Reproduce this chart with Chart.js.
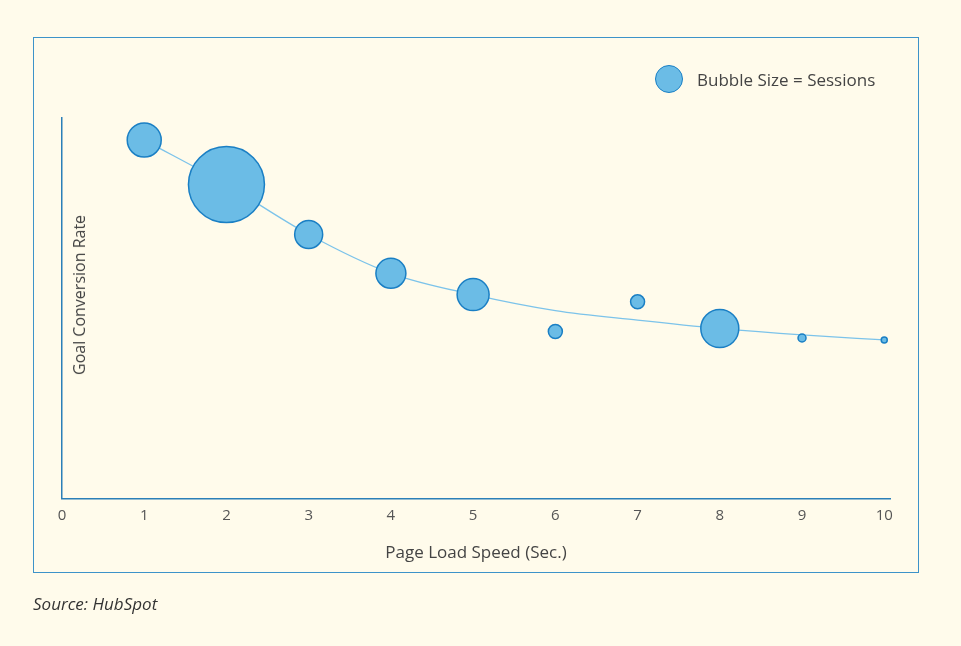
<!DOCTYPE html>
<html><head><meta charset="utf-8">
<script src="https://cdn.jsdelivr.net/npm/chart.js@4"></script>
<style>
body{margin:0;background:#fffbeb;font-family:"Open Sans",Lato,sans-serif;}
#wrap{position:relative;width:961px;height:646px;overflow:hidden}
#frame{position:absolute;left:33px;top:37px;width:884px;height:534px;border:1.5px solid #3d93c9}
canvas{position:absolute;left:0;top:0}
#ytitle{position:absolute;left:79px;top:295px;transform:translate(-50%,-50%) rotate(-90deg);font-size:16px;color:#444;white-space:nowrap}
#legend{position:absolute;left:655px;top:65px;display:flex;align-items:center;font-size:17px;color:#444}
#legend span.b{width:26px;height:26px;border-radius:50%;background:#6bbce6;border:1.5px solid #1a7fc4;margin-right:14px}
#source{position:absolute;left:33px;top:592px;font-style:italic;font-size:17px;color:#333}
</style></head><body>
<div id="wrap">
<div id="frame"></div>
<canvas id="c" width="961" height="646"></canvas>
<div id="ytitle">Goal Conversion Rate</div>
<div id="legend"><span class="b"></span>Bubble Size = Sessions</div>
<div id="source">Source: HubSpot</div>
</div>
<script>
const speeds=[1,2,3,4,5,6,7,8,9,10];
const conversion=[94.2,82.5,69.4,59.2,53.6,43.9,51.7,44.7,42.2,41.7];
const bubbleRadius=[17,38,14,15,16,7,7,19,4,3];
const trendX=[1,2,3,4,5,6,7,8,9,10];
const trendY=[94.2,82.5,69.4,59.2,53.6,49.4,46.9,44.7,43,41.7];
const xTicks=[0,1,2,3,4,5,6,7,8,9,10];
new Chart(document.getElementById('c'),{
 data:{datasets:[
  {type:'bubble',data:speeds.map((x,i)=>({x:x,y:conversion[i],r:bubbleRadius[i]})),backgroundColor:'#6bbce6',borderColor:'#1a7fc4',borderWidth:1.5,order:1},
  {type:'line',data:trendX.map((x,i)=>({x:x,y:trendY[i]})),borderColor:'#7cc3ea',borderWidth:1.3,pointRadius:0,tension:0.4,cubicInterpolationMode:'monotone',order:2}
 ]},
 options:{responsive:false,animation:false,clip:false,
  layout:{padding:{left:62,right:71,top:118,bottom:83}},
  plugins:{legend:{display:false},tooltip:{enabled:false}},
  scales:{
   x:{type:'linear',min:0,max:10.07,afterBuildTicks:a=>{a.ticks=xTicks.map(v=>({value:v}))},
      grid:{display:false,drawTicks:false},border:{color:'#2b7fb8',width:1.5},
      ticks:{padding:8,color:'#555',font:{family:'Open Sans',size:15}},
      title:{display:true,text:'Page Load Speed (Sec.)',color:'#444',font:{family:'Open Sans',size:17},padding:{top:10,bottom:0}}},
   y:{type:'linear',min:0,max:100,grid:{display:false,drawTicks:false},border:{color:'#2b7fb8',width:1.5},ticks:{display:false}}
  }}
});
</script>
</body></html>
